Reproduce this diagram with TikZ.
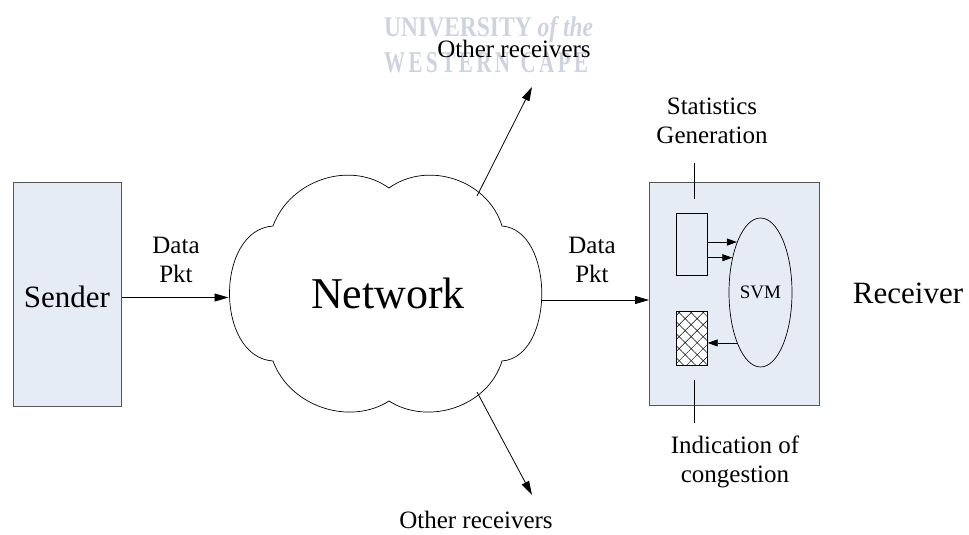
\documentclass[tikz,border=0pt]{standalone}
\usepackage{fontspec}
\setmainfont{Liberation Serif}
\usetikzlibrary{arrows.meta,shapes.geometric,patterns.meta}
\definecolor{boxfill}{RGB}{230,236,246}
\definecolor{boxedge}{RGB}{85,85,85}
\definecolor{wmark}{RGB}{206,211,226}
\begin{document}
\begin{tikzpicture}[x=1pt,y=-1pt,
  lbl/.style={font=\fontsize{25}{29}\selectfont, align=center, inner sep=0},
  midtxt/.style={font=\fontsize{31}{36}\selectfont, inner sep=0},
  bigbox/.style={draw=boxedge, fill=boxfill, line width=1pt, inner sep=0, anchor=north west},
  smallbox/.style={draw=black, line width=0.7pt, inner sep=0, anchor=north west, minimum width=31pt, minimum height=62pt},
  arr/.style={-{Triangle[length=14pt,width=8pt]}, line width=0.8pt},
  sarr/.style={-{Triangle[length=10pt,width=7pt]}, line width=0.8pt},
  plain/.style={line width=0.7pt},
  wm/.style={text=wmark, inner sep=0, font=\bfseries\fontsize{25}{29}\selectfont},
]
\path[use as bounding box] (0,0) rectangle (969,535);

% watermark
\node[wm, anchor=base west] (wm1) at (384,37) {\resizebox{209pt}{20pt}{UNIVERSITY \textit{of the}}};
\node[wm, anchor=base west] (wm2) at (384,73) {\resizebox{204pt}{20pt}{W\,E\,S\,T\,E\,R\,N\ \ C\,A\,P\,E}};

% sender
\node[bigbox, minimum width=108pt, minimum height=224pt] (sender) at (13,182) {};
\node[midtxt] (sendertxt) at (67,297) {Sender};

% cloud
\draw[line width=0.7pt, fill=white]
  (273,226) .. controls (290,180) and (350,160) .. (389,188)
  .. controls (428,160) and (488,180) .. (502,226)
  .. controls (555,230) and (555,357) .. (502,361)
  .. controls (488,407) and (428,426) .. (389,401)
  .. controls (350,426) and (290,407) .. (273,361)
  .. controls (215,357) and (215,230) .. (273,226) -- cycle;
\node[font=\fontsize{44}{50}\selectfont, inner sep=0] (net) at (388,293) {Network};
\coordinate (cl) at (228.5,297.5);
\coordinate (cr) at (541.5,300);
\coordinate (ctop) at (477,196);
\coordinate (cbot) at (477,392);
\coordinate (otop) at (532,87);
\coordinate (obot) at (532,495);

% receiver
\node[bigbox, minimum width=170pt, minimum height=223pt] (recv) at (649,182) {};
\node[midtxt] (recvtxt) at (908,293) {Receiver};
\node[smallbox, fill=boxfill] (stat) at (676,213) {};
\node[smallbox, fill=white, minimum height=54pt] (hatch) at (676,311) {};
\path[pattern={Lines[angle=45,distance=8.5pt,line width=0.5pt]}] (hatch.south west) rectangle (hatch.north east);
\path[pattern={Lines[angle=-45,distance=8.5pt,line width=0.5pt]}] (hatch.south west) rectangle (hatch.north east);
\draw[line width=0.7pt] (hatch.south west) rectangle (hatch.north east);
\node[draw, ellipse, line width=0.7pt, inner sep=0, minimum width=63pt, minimum height=149pt,
      font=\fontsize{19}{22}\selectfont] (svm) at (760.5,292.5) {SVM};

% labels
\node[lbl] (dpl) at (176,260) {Data\\Pkt};
\node[lbl] (dpr) at (592,260) {Data\\Pkt};
\node[lbl] (ortop) at (514,49) {Other receivers};
\node[lbl] (orbot) at (476,520) {Other receivers};
\node[lbl] (stg) at (712,121) {Statistics\\Generation};
\node[lbl] (ind) at (735,462) {Indication of\\congestion};

\coordinate (st1) at (694,163);
\coordinate (st2) at (694,199);
\coordinate (in1) at (694,380);
\coordinate (in2) at (694,423);

% connectors
\draw[arr] (sender.east |- cl) -- (cl);
\draw[arr] (cr) -- (cr -| recv.west);
\draw[arr] (ctop) -- (otop);
\draw[arr] (cbot) -- (obot);
\draw[sarr] (svm.115.4 -| stat.east) -- (svm.115.4);
\draw[sarr] (svm.129 -| stat.east) -- (svm.129);
\draw[sarr] (svm.245.3) -- (svm.245.3 -| hatch.east);
\draw[plain] (st1) -- (st2);
\draw[plain] (in1) -- (in2);
\end{tikzpicture}
\end{document}
